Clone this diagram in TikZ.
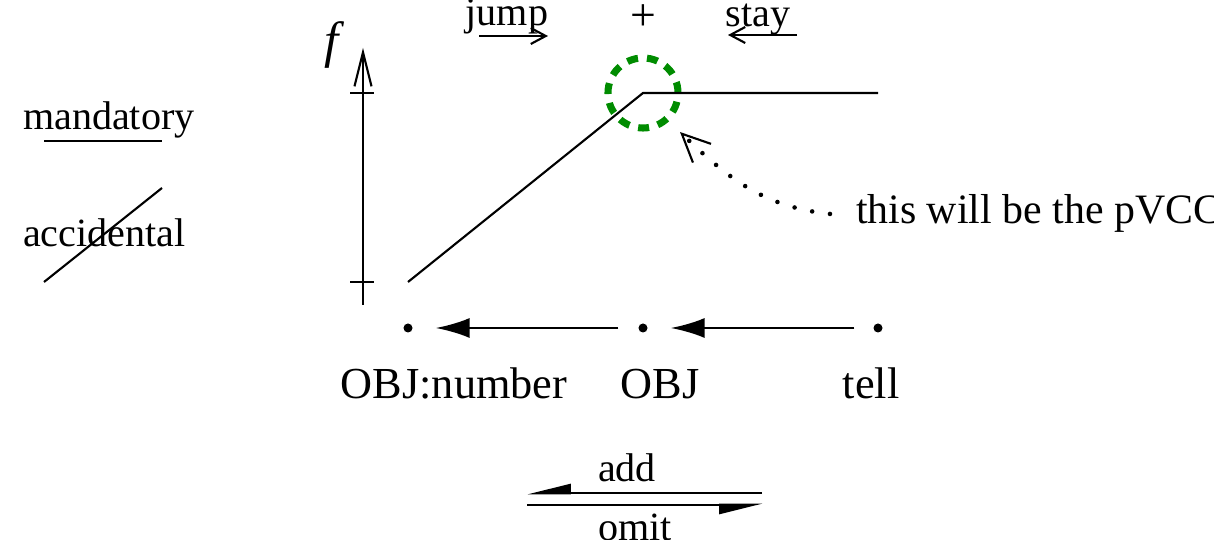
\documentclass[tikz,border=0pt]{standalone}
\usepackage{fontspec}
\setmainfont{Liberation Serif}
\usetikzlibrary{positioning,arrows.meta,calc}
\definecolor{ring}{HTML}{008C00}
\definecolor{ink}{HTML}{000000}

\begin{document}
\begin{tikzpicture}[x=0.01cm,y=-0.01cm,line width=0.6pt,
  lab/.style={inner sep=0pt,anchor=base,font=\fontsize{11.4}{13}\selectfont},
  big/.style={inner sep=0pt,anchor=base,font=\fontsize{12.6}{15}\selectfont},
  pt/.style={circle,fill=ink,inner sep=0pt,minimum size=0.09cm},
  dots/.style={line width=1.3pt,line cap=round,dash pattern=on 0pt off 0.18cm}]
\useasboundingbox (0,0) rectangle (1214,540);
% legend
\node[lab,anchor=base west] (man) at (22,130){mandatory};
\node[lab,anchor=base west] (acc) at (22,247){accidental};
\draw (44,141)--(162,141);\draw (44,282)--(162,188);
% top labels
\node[lab] (jmp) at (507,26){jump};
\node[big,font=\fontsize{13}{15}\selectfont] (pls) at (643,31){+};
\node[lab] (sty) at (758,27){stay};
\coordinate (j1) at (479,36);\coordinate (j2) at (548,36);
\coordinate (s1) at (797,35);\coordinate (s2) at (728,35);
\draw[-{Straight Barb[length=0.15cm,width=0.16cm]}] (j1)--(j2);
\draw[-{Straight Barb[length=0.15cm,width=0.16cm]}] (s1)--(s2);
% axis
\coordinate (ab) at (363,305);\coordinate (at) at (363,48);
\node[big,font=\fontsize{14.5}{16}\selectfont\itshape] (f) at (332,58){f};
\draw[-{Straight Barb[length=0.34cm,width=0.17cm]}] (ab)--(at);
\draw (350,93)--(374,93);\draw (350,282)--(374,282);
% graph
\coordinate (g0) at (408,282);\coordinate (g1) at (643,93);\coordinate (g2) at (878,93);
\node[circle,draw=ring,line width=2pt,dash pattern=on 0.11cm off 0.09cm,minimum size=0.70cm,inner sep=0pt] (pv) at (g1){};
\draw (g0)--(g1)--(g2);
% note
\node[big,anchor=base west,font=\fontsize{11.9}{14}\selectfont] (note) at (855,224){this will be the pVCC};
\coordinate (tip) at ($(pv.center)+(0.37cm,-0.39cm)$);
\draw[dots,-{Straight Barb[length=0.28cm,width=0.26cm,line width=0.6pt]}] ([xshift=-0.25cm]note.west) to[out=174,in=-44] (tip);
% chain
\node[pt] (nu) at (408,328){};\node[pt] (ob) at (643,328){};\node[pt] (te) at (878,328){};
\node[big] (nul) at (454,399){OBJ:number};
\node[big] (obl) at (660,399){OBJ};
\node[big] (tel) at (871,399){tell};
\draw[-{Latex[length=0.34cm,width=0.2cm]},line width=0.8pt,shorten <=0.19cm,shorten >=0.22cm] (ob)--(nu);
\draw[-{Latex[length=0.34cm,width=0.2cm]},line width=0.8pt,shorten <=0.18cm,shorten >=0.22cm] (te)--(ob);
% add / omit
\coordinate (a1) at (762,493);\coordinate (a2) at (527,493);
\coordinate (o1) at (527,505);\coordinate (o2) at (763,505);
\draw[-{Triangle[length=0.38cm,width=0.18cm,harpoon,swap]},line width=0.8pt] (a1)--(a2);
\draw[-{Triangle[length=0.38cm,width=0.18cm,harpoon,swap]},line width=0.8pt] (o1)--(o2);
\node[lab] (add) at (627,482){add};
\node[lab] (omt) at (635,541){omit};
\end{tikzpicture}
\end{document}
